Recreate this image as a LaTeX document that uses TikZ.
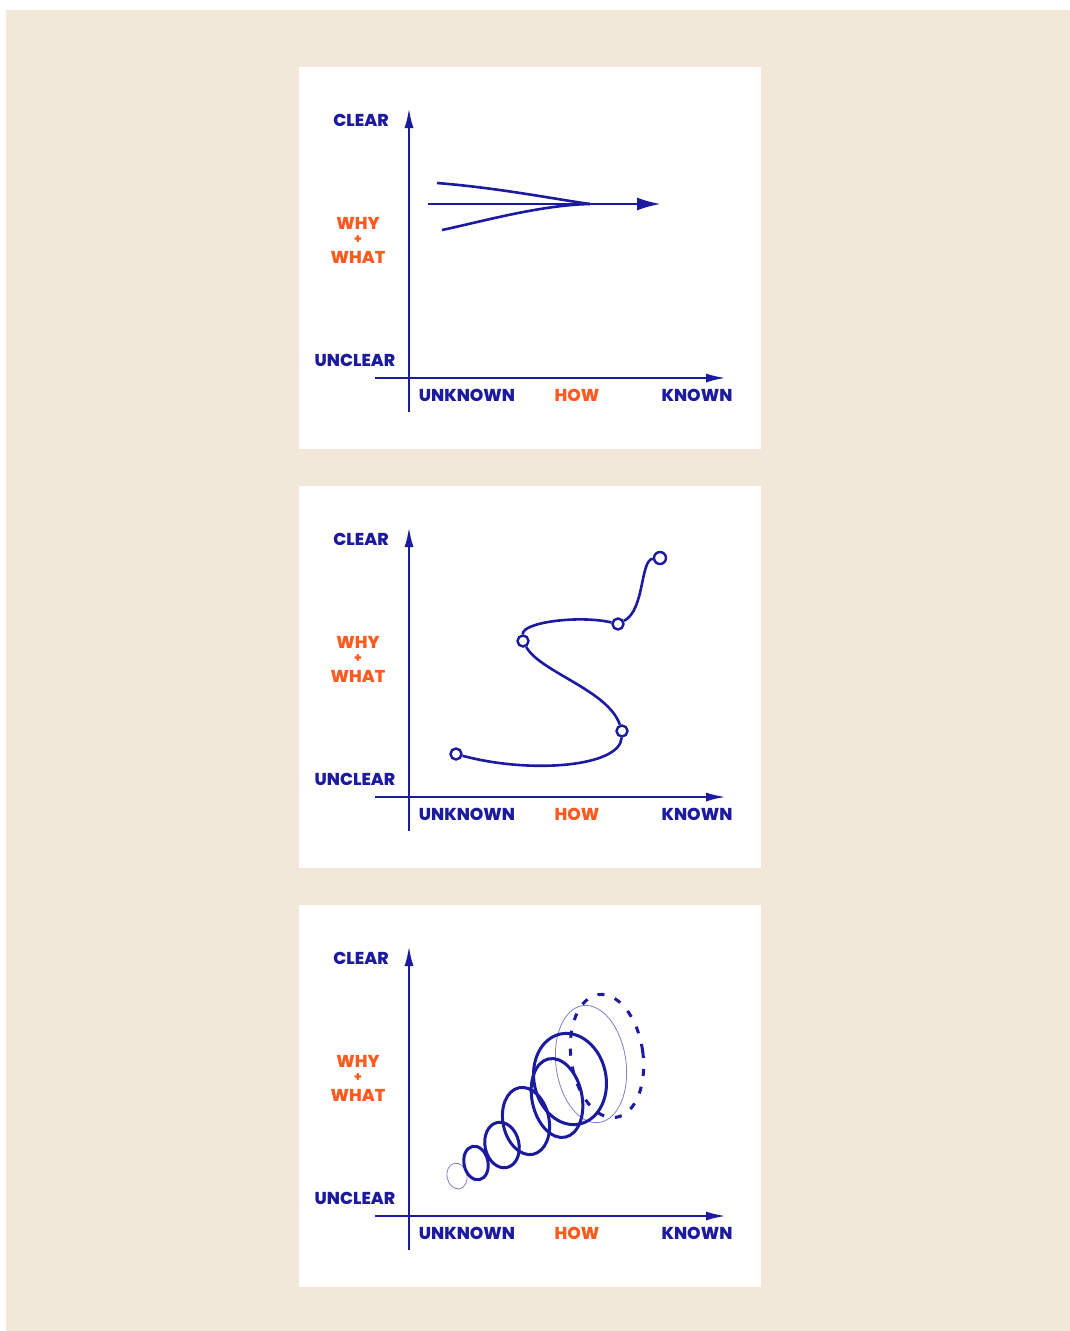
\documentclass[tikz,border=0pt]{standalone}
\usepackage{fontspec}
\setmainfont{Poppins}[BoldFont={Poppins ExtraBold}]
\usetikzlibrary{arrows.meta,positioning}
\definecolor{ink}{HTML}{1C1A9E}
\definecolor{flame}{HTML}{FF5A1F}
\definecolor{sand}{HTML}{F1E8DA}

% one empty chart: white card, the two axes and their labels
\newcommand{\chartframe}[1]{%
  \fill[white] (299,67) rectangle (761,449);
  \coordinate (#1-ybot) at (409,412);
  \coordinate (#1-ytop) at (409,107);
  \coordinate (#1-xleft) at (375,378);
  \coordinate (#1-xright) at (727,378);
  \draw[axis] (#1-ybot) -- (#1-ytop);
  \draw[axis] (#1-xleft) -- (#1-xright);
  \node[lbl] (#1-clear) at (361,120) {CLEAR};
  \node[lbl] (#1-unclear) at (355,360) {UNCLEAR};
  \node[hint] (#1-why) at (358,223) {WHY};
  \node[hint, font=\bfseries\fontsize{13}{13}\selectfont] (#1-plus) at (358,240) {+};
  \node[hint] (#1-what) at (358,257) {WHAT};
  \node[lbl] (#1-unknown) at (467,395) {UNKNOWN};
  \node[hint] (#1-how) at (577,395) {HOW};
  \node[lbl] (#1-known) at (697,395) {KNOWN};
}

\begin{document}
\begin{tikzpicture}[
    x=1pt, y=-1pt,
    axis/.style={draw=ink, line width=2.9pt, -{Latex[length=21pt,width=9pt]}},
    lbl/.style={text=ink, font=\bfseries\fontsize{17.2}{17}\selectfont, inner sep=0pt},
    hint/.style={lbl, text=flame},
    trail/.style={draw=ink, line width=2.6pt},
    knot/.style={circle, draw=ink, line width=2.4pt, minimum size=11pt, inner sep=0pt, fill=white},
    loop/.style={draw=ink, line width=3pt},
    ghost/.style={draw=ink, line width=0.8pt, opacity=0.55}
  ]
  \useasboundingbox (0,0) rectangle (1070,1331);
  \fill[sand] (6,10) rectangle (1070,1331);

  % chart 1: three paths that meet in one arrow
  \begin{scope}
    \chartframe{a}
    \coordinate (s1) at (437,183);
    \coordinate (s2) at (428,204);
    \coordinate (s3) at (442,230);
    \coordinate (meet) at (590,204);
    \coordinate (tip) at (661,204);
    \draw[trail] (s1) .. controls (500,188) and (560,200) .. (meet);
    \draw[trail] (s3) .. controls (480,222) and (540,205) .. (meet);
    \draw[trail, -{Latex[length=24pt,width=13pt]}] (s2) -- (tip);
  \end{scope}

  % chart 2: a winding path through stops
  \begin{scope}[shift={(0,419)}]
    \chartframe{b}
    \node[knot] (k1) at (456,335) {};
    \node[knot] (k2) at (622,312) {};
    \node[knot] (k3) at (523,222) {};
    \node[knot] (k4) at (618,205) {};
    \node[knot, minimum size=12pt] (k5) at (660,139) {};
    \draw[trail] (k1) .. controls (530,355) and (620,348) .. (k2);
    \draw[trail] (k2) .. controls (608,271) and (540,253) .. (k3);
    \draw[trail] (k3) .. controls (522,203) and (580,196) .. (k4);
    \draw[trail] (k4) .. controls (645,191) and (640,141) .. (k5);
  \end{scope}

  % chart 3: growing loops
  \begin{scope}[shift={(0,838)}]
    \chartframe{c}
    \draw[ghost] (457,338) ellipse [x radius=10, y radius=13, rotate=12];
    \foreach \cx/\cy/\rx/\ry in {476/325/12/17, 502/307/17/23, 526/283/23/34, 557/260/25/40, 570/241/36/46}
      \draw[loop] (\cx,\cy) ellipse [x radius=\rx, y radius=\ry, rotate=12];
    \draw[ghost] (591,226) ellipse [x radius=35, y radius=59, rotate=8];
    \draw[loop, dash pattern=on 7pt off 11pt] (607,218) ellipse [x radius=36, y radius=62, rotate=8];
  \end{scope}
\end{tikzpicture}
\end{document}
